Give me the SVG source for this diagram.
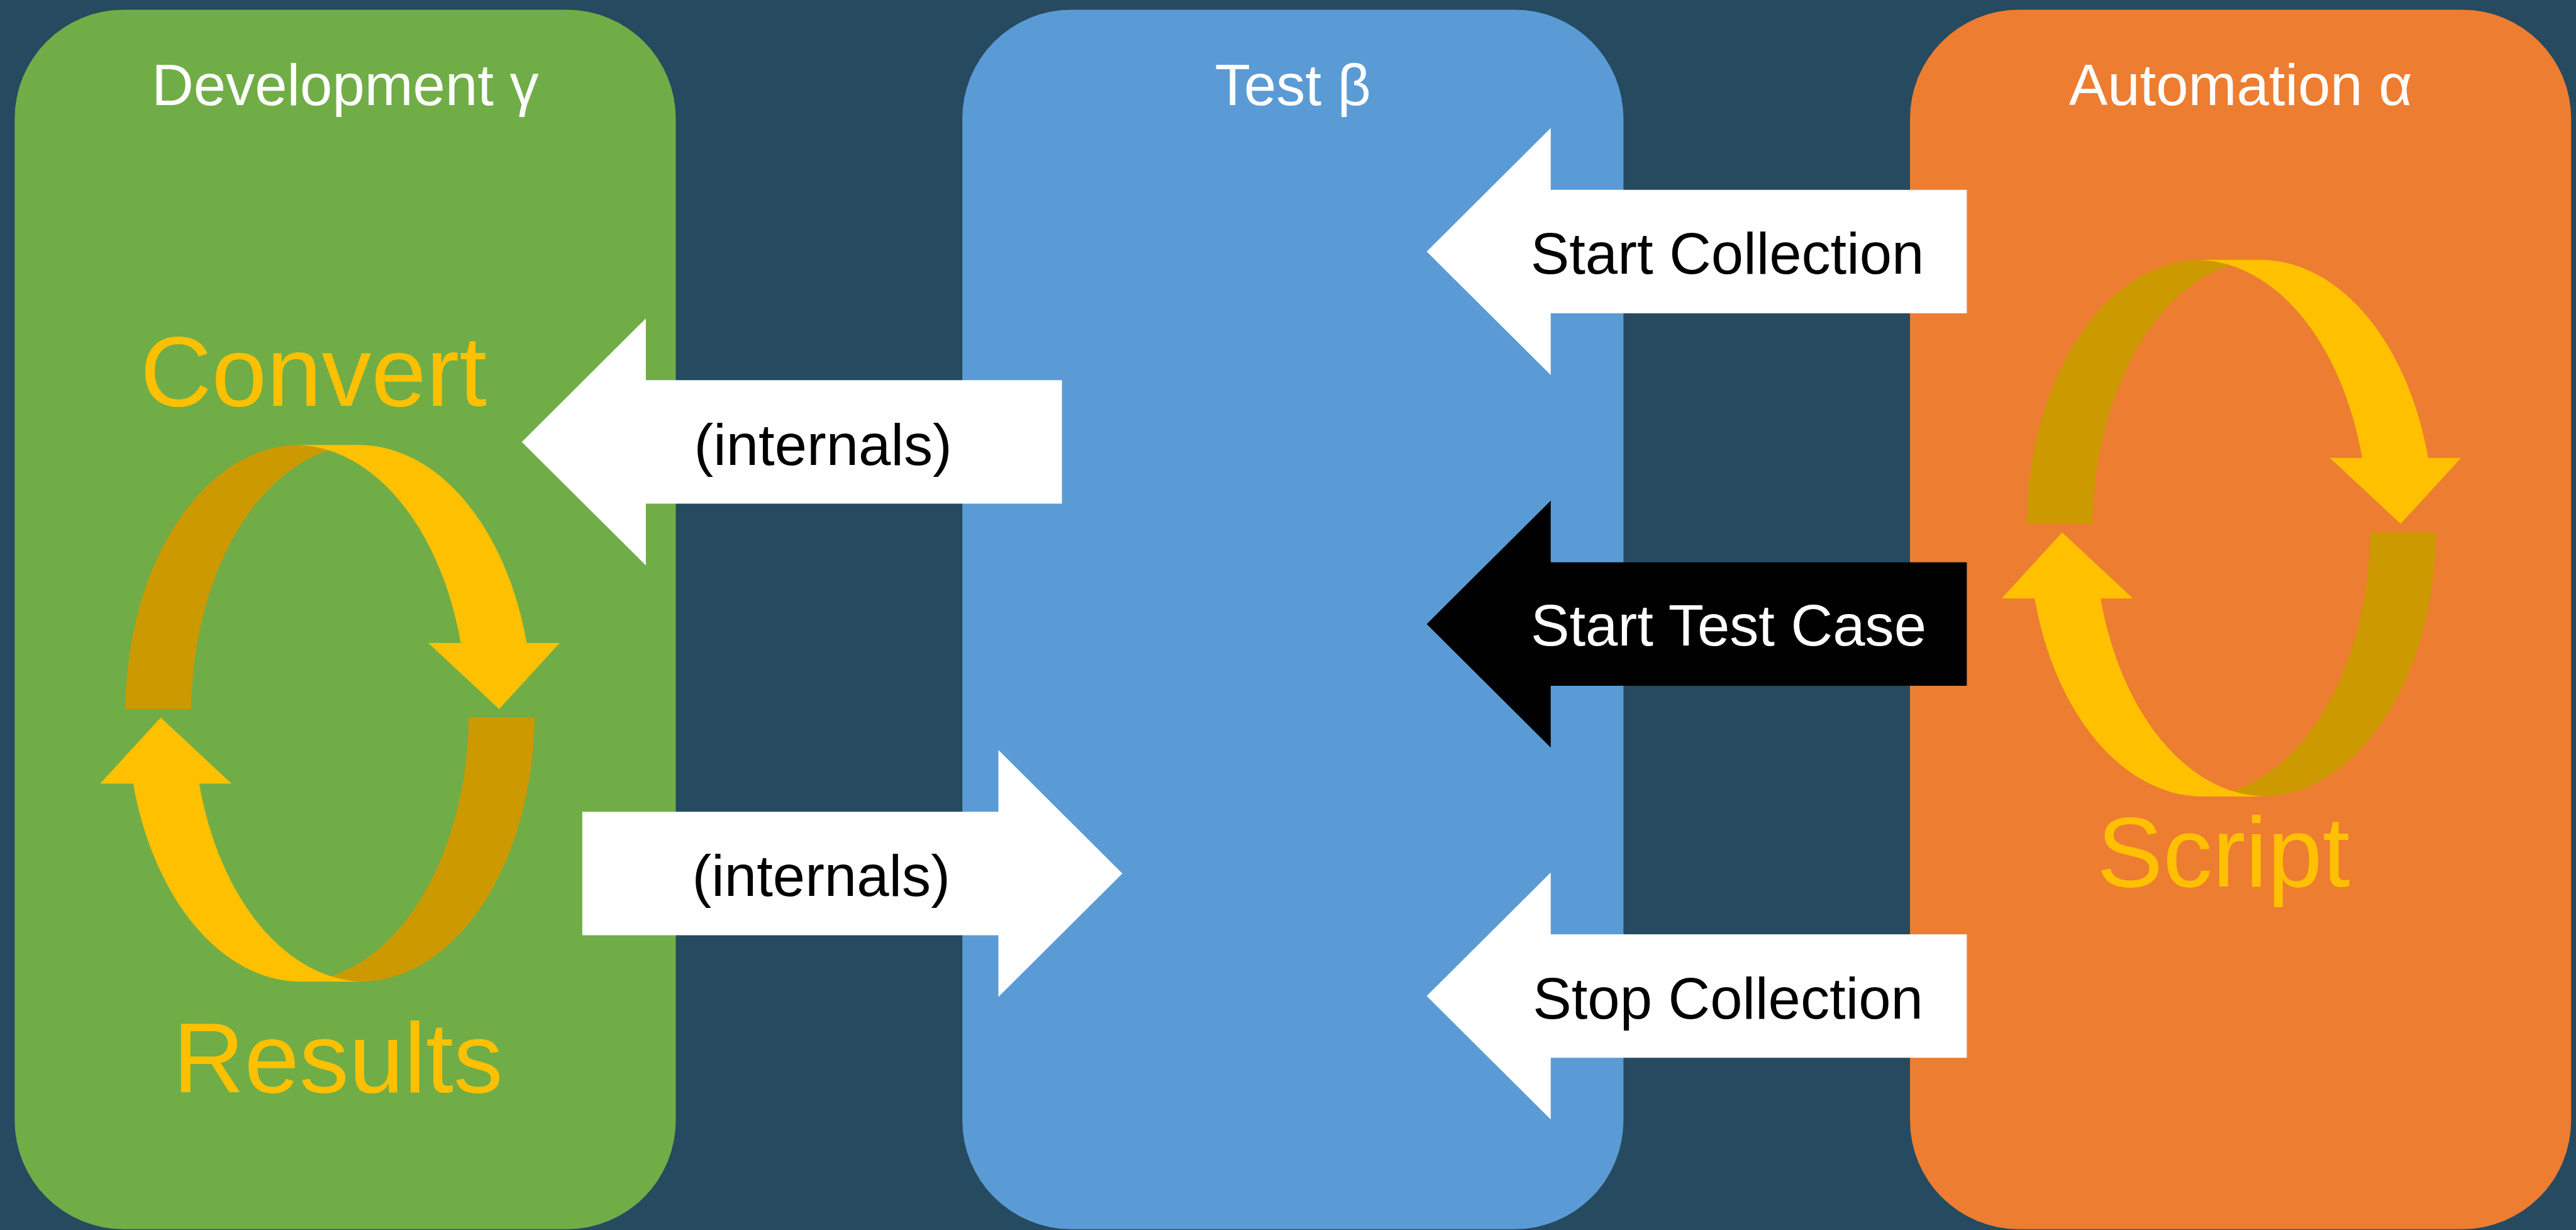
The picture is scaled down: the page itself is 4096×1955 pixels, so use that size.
<svg xmlns="http://www.w3.org/2000/svg" xmlns:xlink="http://www.w3.org/1999/xlink" width="4096" height="1955" viewBox="0 0 4096 1955">
  <style>
    text { font-family: "Liberation Sans", Arial, Helvetica, sans-serif; text-anchor: middle; }
    .bg { fill: #264A60; }
    .dev { fill: #70AD47; }
    .test { fill: #5B9BD5; }
    .auto { fill: #ED7D31; }
    .title { font-size: 95px; fill: #FFFFFF; }
    .big { font-size: 162px; fill: #FFC000; }
    .label { font-size: 95px; }
    .bright { fill: #FFC000; }
    .dark { fill: #CC9900; }
    .white { fill: #FFFFFF; }
    .black { fill: #000000; }
  </style>
  <defs>
    <!-- one half of the looping ribbon, centred on the loop's middle -->
    <g id="cycle-half">
      <path class="dark" d="M -335 -7 A 285 439 0 0 1 -50 -439 L 54 -439 A 282 439 0 0 0 -227 -7 Z"/>
      <path class="bright" d="M -54 -439 L 52 -439 A 285 439 0 0 1 322 -115 L 376 -115 L 277 -7 L 161 -115 L 214 -115 A 282 439 0 0 0 -54 -439 Z"/>
    </g>
    <g id="cycle">
      <use href="#cycle-half" xlink:href="#cycle-half"/>
      <use href="#cycle-half" xlink:href="#cycle-half" transform="rotate(180)"/>
    </g>
    <!-- block arrow, tip at the origin, pointing left -->
    <polygon id="block-arrow" points="0,0 203,-202 203,-101 884,-101 884,101 203,101 203,202"/>
  </defs>

  <rect class="bg" x="0" y="0" width="4096" height="1955"/>

  <g transform="scale(0.971537)">
    <g id="development">
      <rect class="dev" x="24" y="16" width="1082" height="1995" rx="178" ry="178"/>
      <text class="title" x="565" y="172">Development γ</text>
      <use href="#cycle" xlink:href="#cycle" x="540" y="1167"/>
      <text class="big" x="513" y="664">Convert</text>
      <text class="big" x="553" y="1787">Results</text>
    </g>

    <g id="test">
      <rect class="test" x="1575" y="16" width="1082" height="1995" rx="178" ry="178"/>
      <text class="title" x="2116" y="172">Test β</text>
    </g>

    <g id="automation">
      <rect class="auto" x="3126" y="16" width="1082" height="1995" rx="178" ry="178"/>
      <text class="title" x="3667" y="172">Automation α</text>
      <use href="#cycle" xlink:href="#cycle" x="3652" y="864"/>
      <text class="big" x="3639" y="1450">Script</text>
    </g>

    <g id="connectors">
      <g id="internals-to-development">
        <use class="white" href="#block-arrow" xlink:href="#block-arrow" transform="translate(854,723)"/>
        <text class="label" x="1347" y="761" fill="#000000">(internals)</text>
      </g>
      <g id="internals-to-test">
        <use class="white" href="#block-arrow" xlink:href="#block-arrow" transform="translate(1837,1429) scale(-1,1)"/>
        <text class="label" x="1344" y="1466" fill="#000000">(internals)</text>
      </g>
      <g id="start-collection">
        <use class="white" href="#block-arrow" xlink:href="#block-arrow" transform="translate(2335,411.5)"/>
        <text class="label" x="2827" y="448" fill="#000000">Start Collection</text>
      </g>
      <g id="start-test-case">
        <use class="black" href="#block-arrow" xlink:href="#block-arrow" transform="translate(2335,1021)"/>
        <text class="label" x="2829" y="1056" fill="#FFFFFF">Start Test Case</text>
      </g>
      <g id="stop-collection">
        <use class="white" href="#block-arrow" xlink:href="#block-arrow" transform="translate(2335,1629.5)"/>
        <text class="label" x="2828" y="1666" fill="#000000">Stop Collection</text>
      </g>
    </g>
  </g>
</svg>
